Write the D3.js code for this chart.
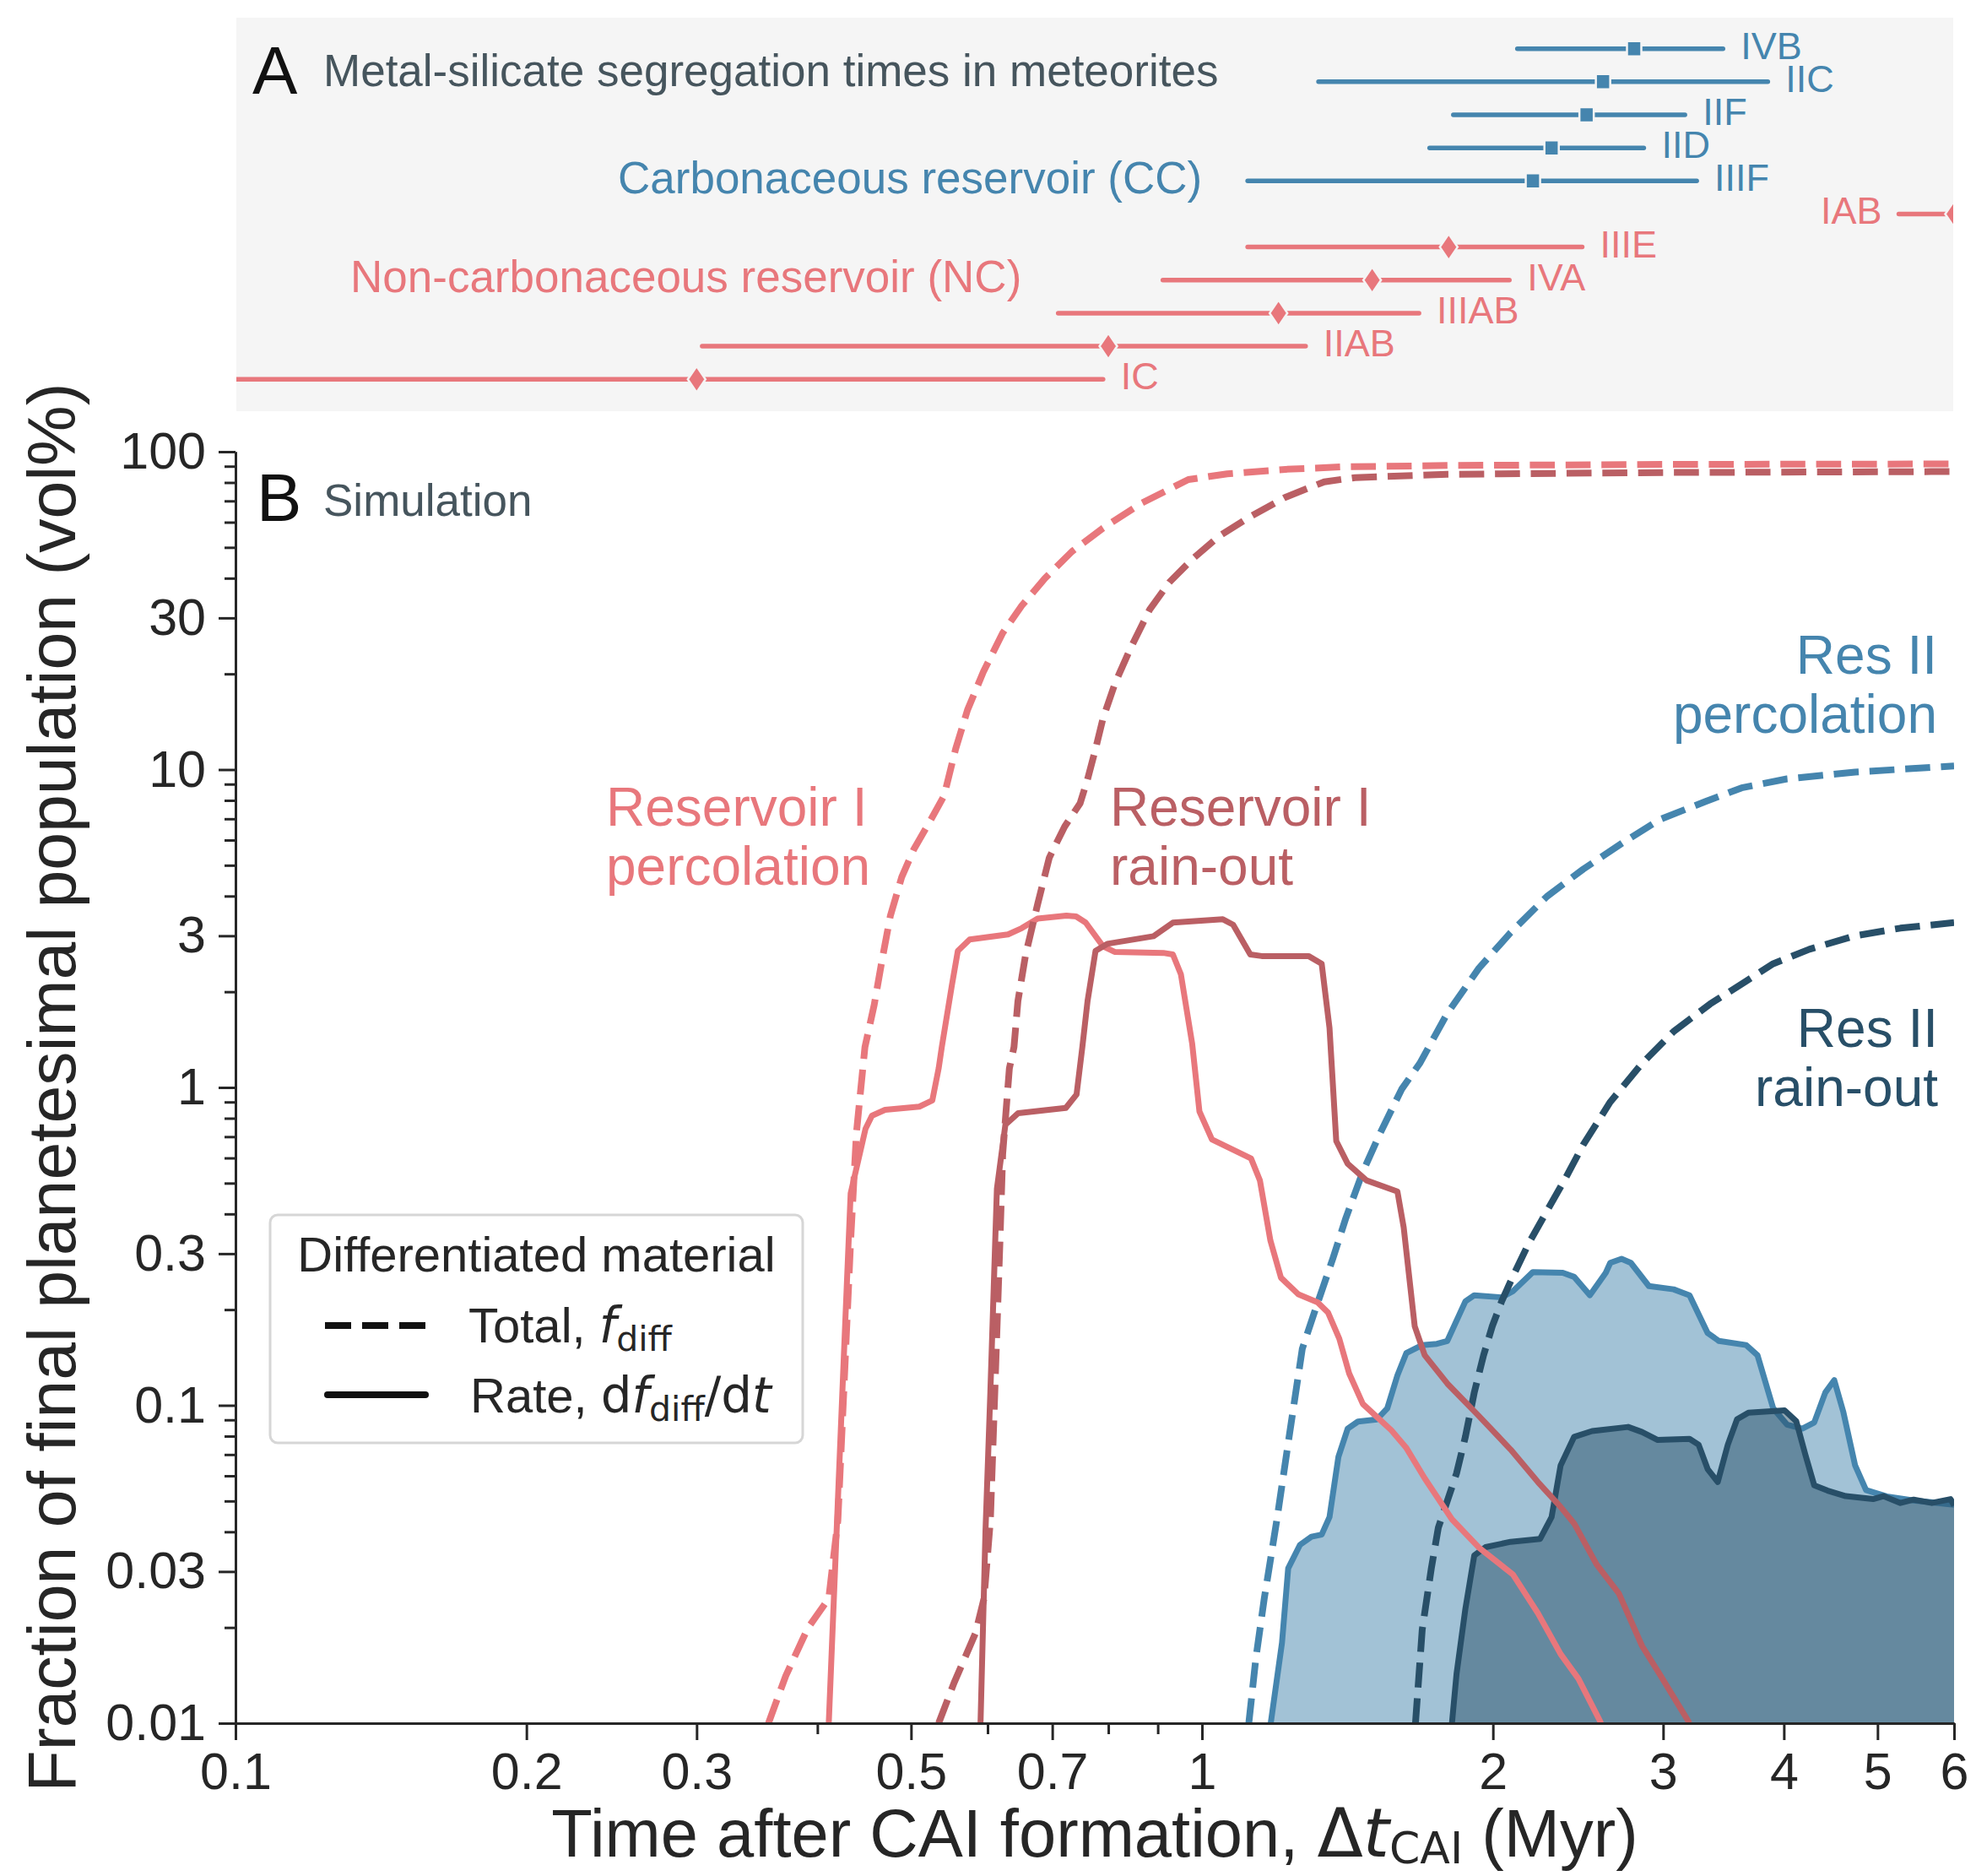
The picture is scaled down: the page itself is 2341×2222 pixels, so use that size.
<!DOCTYPE html>
<html>
<head>
<meta charset="utf-8">
<script src="https://cdn.jsdelivr.net/npm/d3@7"></script>
<style>
  html, body { margin: 0; padding: 0; background: #fff; }
  svg { display: block; font-family: "Liberation Sans", Arial, sans-serif; }
</style>
</head>
<body>
<div id="chart"></div>
<script>
// ---------- panel A: metal-silicate segregation ages (Myr after CAI) ----------
const meteorites = ["IVB", "IIC", "IIF", "IID", "IIIF", "IAB", "IIIE", "IVA", "IIIAB", "IIAB", "IC"];
const reservoirOf = ["CC", "CC", "CC", "CC", "CC", "NC", "NC", "NC", "NC", "NC", "NC"];
const ageMid = [2.8, 2.6, 2.5, 2.3, 2.2, 6.0, 1.8, 1.5, 1.2, 0.8, 0.3];
const ageLo = [2.12, 1.32, 1.82, 1.72, 1.115, 5.26, 1.115, 0.911, 0.71, 0.304, 0.08];
const ageHi = [3.46, 3.85, 3.16, 2.865, 3.25, 6.8, 2.474, 2.08, 1.677, 1.28, 0.79];

// ---------- panel B: simulation curves (vol%) ----------
// Reservoir I percolation
const percITotalX = [0.356, 0.371, 0.391, 0.411, 0.42, 0.426, 0.433, 0.439, 0.448, 0.458, 0.467, 0.476, 0.489, 0.503, 0.522, 0.541, 0.556, 0.572, 0.594, 0.622, 0.651, 0.688, 0.734, 0.79, 0.867, 0.968, 1.062, 1.22, 1.4, 1.8, 3, 6];
const percITotalY = [0.01, 0.0141, 0.0199, 0.0247, 0.0434, 0.111, 0.33, 0.72, 1.34, 1.82, 2.55, 3.47, 4.59, 5.59, 6.8, 8.28, 11.6, 15.4, 20.3, 26.9, 32.8, 40, 48.6, 57.5, 69, 81.7, 85.2, 88, 89.6, 90.5, 91.2, 91.5];
const percIRateX = [0.411, 0.42, 0.428, 0.433, 0.4486, 0.4555, 0.47, 0.51, 0.526, 0.534, 0.538, 0.551, 0.559, 0.575, 0.63, 0.651, 0.676, 0.724, 0.741, 0.758, 0.79, 0.812, 0.912, 0.933, 0.951, 0.977, 0.994, 1.024, 1.124, 1.148, 1.177, 1.207, 1.258, 1.317, 1.35, 1.387, 1.42, 1.467, 1.514, 1.57, 1.626, 1.7, 1.814, 1.934, 2.097, 2.226, 2.35, 2.452, 2.588];
const percIRateY = [0.01, 0.05, 0.2, 0.464, 0.741, 0.815, 0.85, 0.87, 0.91, 1.148, 1.34, 2.09, 2.69, 2.92, 3.03, 3.17, 3.4, 3.47, 3.45, 3.3, 2.78, 2.67, 2.65, 2.62, 2.27, 1.37, 0.84, 0.686, 0.598, 0.51, 0.33, 0.252, 0.2235, 0.211, 0.196, 0.162, 0.126, 0.101, 0.0924, 0.0835, 0.0737, 0.0589, 0.0438, 0.0357, 0.0294, 0.0222, 0.0165, 0.0138, 0.01];

// Reservoir I rain-out
const rainITotalX = [0.534, 0.554, 0.583, 0.595, 0.604, 0.6105, 0.618, 0.622, 0.632, 0.639, 0.645, 0.657, 0.676, 0.695, 0.721, 0.748, 0.761, 0.776, 0.79, 0.813, 0.843, 0.883, 0.925, 0.977, 1.042, 1.122, 1.22, 1.338, 1.44, 1.794, 3, 6];
const rainITotalY = [0.01, 0.0134, 0.0192, 0.0247, 0.0434, 0.111, 0.33, 0.617, 1.148, 1.34, 1.87, 2.62, 3.77, 5.28, 6.62, 7.83, 9.27, 11.6, 14.5, 18.7, 24, 31.9, 38.8, 45.9, 54.3, 62.5, 71.9, 80.4, 82.9, 84.9, 86, 86.6];
const rainIRateX = [0.59, 0.597, 0.604, 0.6135, 0.626, 0.6455, 0.723, 0.7417, 0.752, 0.7614, 0.776, 0.798, 0.891, 0.933, 1.051, 1.077, 1.122, 1.153, 1.289, 1.33, 1.355, 1.377, 1.415, 1.48, 1.593, 1.617, 1.66, 1.7, 1.794, 1.934, 2.086, 2.226, 2.35, 2.427, 2.56, 2.7, 2.853, 2.978, 3.195];
const rainIRateY = [0.01, 0.04, 0.11, 0.48, 0.763, 0.83, 0.862, 0.95, 1.34, 1.87, 2.69, 2.83, 2.99, 3.3, 3.38, 3.25, 2.62, 2.59, 2.59, 2.45, 1.54, 0.678, 0.5755, 0.51, 0.4706, 0.3628, 0.1773, 0.1438, 0.1171, 0.0926, 0.0726, 0.0574, 0.0479, 0.0425, 0.0316, 0.0256, 0.0175, 0.0142, 0.01];

// Reservoir II percolation
const percIITotalX = [1.118, 1.137, 1.16, 1.195, 1.2325, 1.27, 1.31, 1.366, 1.409, 1.467, 1.529, 1.609, 1.68, 1.794, 1.934, 2.086, 2.275, 2.48, 2.733, 2.978, 3.32, 3.617, 4.03, 4.74, 6];
const percIITotalY = [0.01, 0.016, 0.0247, 0.0434, 0.082, 0.1507, 0.2, 0.2898, 0.3886, 0.5426, 0.719, 0.987, 1.19, 1.71, 2.37, 3.07, 3.99, 4.86, 5.92, 6.97, 7.94, 8.76, 9.35, 9.82, 10.26];
const percIIRateX = [1.178, 1.21, 1.228, 1.263, 1.298, 1.33, 1.355, 1.384, 1.415, 1.45, 1.517, 1.555, 1.593, 1.627, 1.69, 1.75, 1.794, 1.873, 1.913, 2.042, 2.097, 2.2, 2.362, 2.427, 2.52, 2.617, 2.645, 2.717, 2.778, 2.9, 3.076, 3.195, 3.336, 3.427, 3.656, 3.756, 3.9, 4.03, 4.18, 4.3, 4.415, 4.51, 4.61, 4.74, 4.865, 5.11, 5.45, 6];
const percIIRateY = [0.01, 0.0179, 0.0307, 0.0364, 0.0386, 0.0392, 0.0445, 0.0688, 0.0845, 0.0889, 0.0903, 0.0978, 0.1243, 0.1459, 0.1547, 0.1561, 0.1594, 0.2123, 0.2219, 0.2186, 0.2283, 0.2626, 0.2612, 0.2535, 0.222, 0.2612, 0.2807, 0.289, 0.2807, 0.2372, 0.2317, 0.2219, 0.1687, 0.1594, 0.1547, 0.1438, 0.0978, 0.087, 0.0845, 0.0883, 0.1097, 0.12, 0.095, 0.0647, 0.0541, 0.0517, 0.0502, 0.0487];

// Reservoir II rain-out
const rainIITotalX = [1.663, 1.69, 1.727, 1.756, 1.794, 1.834, 1.873, 1.913, 1.956, 1.997, 2.042, 2.097, 2.178, 2.275, 2.375, 2.48, 2.645, 2.853, 3.076, 3.355, 3.656, 3.9, 4.25, 4.74, 5.28, 6];
const rainIITotalY = [0.01, 0.0197, 0.0307, 0.0412, 0.05, 0.0611, 0.0796, 0.1097, 0.1438, 0.1774, 0.2123, 0.254, 0.3232, 0.409, 0.5148, 0.66, 0.9, 1.19, 1.5, 1.83, 2.16, 2.45, 2.72, 3.0, 3.17, 3.3];
const rainIIRateX = [1.814, 1.834, 1.873, 1.913, 1.965, 2.086, 2.238, 2.3, 2.35, 2.427, 2.533, 2.76, 2.853, 2.962, 3.195, 3.265, 3.336, 3.417, 3.5, 3.578, 3.676, 4.007, 4.12, 4.21, 4.3, 4.44, 4.635, 4.947, 5.07, 5.28, 5.45, 5.69, 5.95, 6];
const rainIIRateY = [0.01, 0.0143, 0.0229, 0.0337, 0.0358, 0.0372, 0.038, 0.0445, 0.0647, 0.0796, 0.083, 0.0855, 0.0824, 0.0778, 0.0784, 0.0752, 0.063, 0.0574, 0.0752, 0.0904, 0.0948, 0.0964, 0.0891, 0.07, 0.056, 0.0539, 0.0518, 0.0507, 0.0518, 0.0493, 0.0505, 0.0493, 0.0507, 0.0484];

// ---------- ticks ----------
const xMajor = [0.1, 0.2, 0.3, 0.5, 0.7, 1, 2, 3, 4, 5, 6];
const xTickLabels = ["0.1", "0.2", "0.3", "0.5", "0.7", "1", "2", "3", "4", "5", "6"];
const xMinor = [0.4, 0.6, 0.8, 0.9];
const yMajor = [0.01, 0.03, 0.1, 0.3, 1, 3, 10, 30, 100];
const yTickLabels = ["0.01", "0.03", "0.1", "0.3", "1", "3", "10", "30", "100"];
const yMinor = [0.02, 0.04, 0.05, 0.06, 0.07, 0.08, 0.09, 0.2, 0.4, 0.5, 0.6, 0.7, 0.8, 0.9,
                2, 4, 5, 6, 7, 8, 9, 20, 40, 50, 60, 70, 80, 90];

// ---------- layout ----------
const width = 2341, height = 2222;
const plot = { left: 279, right: 2315, top: 535, bottom: 2041 };
const panelA = { left: 280, right: 2314, top: 21, bottom: 487, rowTop: 57.7, rowBottom: 449.2 };
const ink = "#262626";
const slate = "#46555d";
const panelBg = "#f5f5f5";
const colors = { percI: "#e8777c", rainI: "#ba5f64", percII: "#4585ae", rainII: "#284f68" };
const resColor = { CC: colors.percII, NC: colors.percI };
const dash = "29.6,12.8";

const x = d3.scaleLog().domain([0.1, 6]).range([plot.left, plot.right]);
const y = d3.scaleLog().domain([0.01, 100]).range([plot.bottom, plot.top]);
const row = d3.scalePoint().domain(meteorites).range([panelA.rowTop, panelA.rowBottom]);

const svg = d3.select("#chart").append("svg")
    .attr("width", width)
    .attr("height", height)
    .attr("viewBox", [0, 0, width, height]);

const defs = svg.append("defs");
defs.append("clipPath").attr("id", "clipA").append("rect")
    .attr("x", panelA.left).attr("y", panelA.top)
    .attr("width", panelA.right - panelA.left).attr("height", panelA.bottom - panelA.top);
defs.append("clipPath").attr("id", "clipB").append("rect")
    .attr("x", plot.left).attr("y", plot.top - 10)
    .attr("width", plot.right - plot.left).attr("height", plot.bottom - plot.top + 10);

// ================= panel A =================
svg.append("rect")
    .attr("x", panelA.left).attr("y", panelA.top)
    .attr("width", panelA.right - panelA.left).attr("height", panelA.bottom - panelA.top)
    .attr("fill", panelBg);

const gA = svg.append("g").attr("clip-path", "url(#clipA)");
const rowsA = meteorites.map((m, i) => ({ name: m, res: reservoirOf[i], mid: ageMid[i], lo: ageLo[i], hi: ageHi[i] }));

gA.selectAll("line.bar")
    .data(rowsA)
    .join("line")
    .attr("class", "bar")
    .attr("x1", d => x(d.lo)).attr("x2", d => x(d.hi))
    .attr("y1", d => row(d.name)).attr("y2", d => row(d.name))
    .attr("stroke", d => resColor[d.res])
    .attr("stroke-width", 5.5)
    .attr("stroke-linecap", "round");

gA.selectAll("path.marker")
    .data(rowsA)
    .join("path")
    .attr("class", "marker")
    .attr("transform", d => `translate(${x(d.mid)},${row(d.name)})`)
    .attr("d", d => d.res === "CC" ? "M-8.5,-9H8.5V9H-8.5Z" : "M0,-15.5L10.5,0L0,15.5L-10.5,0Z")
    .attr("fill", d => resColor[d.res])
    .attr("stroke", panelBg)
    .attr("stroke-width", 2.5);

gA.selectAll("text.met")
    .data(rowsA)
    .join("text")
    .attr("class", "met")
    .attr("x", d => d.name === "IAB" ? x(d.lo) - 20 : x(d.hi) + 21)
    .attr("y", d => row(d.name) + 12)
    .attr("text-anchor", d => d.name === "IAB" ? "end" : "start")
    .attr("font-size", 45)
    .attr("fill", d => resColor[d.res])
    .text(d => d.name);

svg.append("text").attr("x", 299).attr("y", 111).attr("font-size", 80).attr("fill", "#111").text("A");
svg.append("text").attr("x", 383).attr("y", 101.5).attr("font-size", 53).attr("fill", slate)
    .text("Metal-silicate segregation times in meteorites");
svg.append("text").attr("x", 732).attr("y", row("IIIF") + 14.5).attr("font-size", 53).attr("fill", colors.percII)
    .text("Carbonaceous reservoir (CC)");
svg.append("text").attr("x", 415).attr("y", row("IVA") + 14).attr("font-size", 53).attr("fill", colors.percI)
    .text("Non-carbonaceous reservoir (NC)");

// ================= panel B =================
const line = d3.line().x(d => x(d[0])).y(d => y(d[1]));
const area = d3.area().x(d => x(d[0])).y0(plot.bottom).y1(d => y(d[1]));

const gB = svg.append("g").attr("clip-path", "url(#clipB)");

const drawFill = (xs, ys, color) => {
    gB.append("path").datum(d3.zip(xs, ys))
        .attr("d", area)
        .attr("fill", color)
        .attr("fill-opacity", 0.5);
};
const drawLine = (xs, ys, color, dashed) => {
    gB.append("path").datum(d3.zip(xs, ys))
        .attr("d", line)
        .attr("fill", "none")
        .attr("stroke", color)
        .attr("stroke-width", dashed ? 8 : 7)
        .attr("stroke-linejoin", "round")
        .attr("stroke-dasharray", dashed ? dash : null);
};

drawFill(percIIRateX, percIIRateY, colors.percII);
drawLine(percIIRateX, percIIRateY, colors.percII, false);
drawFill(rainIIRateX, rainIIRateY, colors.rainII);
drawLine(rainIIRateX, rainIIRateY, colors.rainII, false);
drawLine(percIITotalX, percIITotalY, colors.percII, true);
drawLine(rainIITotalX, rainIITotalY, colors.rainII, true);

drawLine(percIRateX, percIRateY, colors.percI, false);
drawLine(rainIRateX, rainIRateY, colors.rainI, false);
drawLine(percITotalX, percITotalY, colors.percI, true);
drawLine(rainITotalX, rainITotalY, colors.rainI, true);

// axes
const styleAxis = g => {
    g.attr("color", ink);
    g.select(".domain").attr("stroke-width", 3);
    g.selectAll(".tick line").attr("stroke-width", 3);
    g.selectAll(".tick text").attr("font-size", 61).attr("font-family", "Liberation Sans, Arial, sans-serif");
};

svg.append("g")
    .attr("transform", `translate(0,${plot.bottom})`)
    .call(d3.axisBottom(x).tickValues(xMinor).tickFormat("").tickSize(13).tickSizeOuter(0))
    .call(styleAxis);
svg.append("g")
    .attr("transform", `translate(0,${plot.bottom})`)
    .call(d3.axisBottom(x).tickValues(xMajor).tickFormat((d, i) => xTickLabels[i]).tickSize(20).tickPadding(15).tickSizeOuter(0))
    .call(styleAxis);

svg.append("g")
    .attr("transform", `translate(${plot.left},0)`)
    .call(d3.axisLeft(y).tickValues(yMinor).tickFormat("").tickSize(13).tickSizeOuter(0))
    .call(styleAxis);
svg.append("g")
    .attr("transform", `translate(${plot.left},0)`)
    .call(d3.axisLeft(y).tickValues(yMajor).tickFormat((d, i) => yTickLabels[i]).tickSize(20).tickPadding(15).tickSizeOuter(0))
    .call(styleAxis);

// axis titles
const xTitle = svg.append("text")
    .attr("x", (plot.left + plot.right) / 2).attr("y", 2199)
    .attr("text-anchor", "middle").attr("font-size", 79.5).attr("fill", ink);
xTitle.append("tspan").text("Time after CAI formation, ");
xTitle.append("tspan").attr("font-family", "DejaVu Sans").text("Δ");
xTitle.append("tspan").attr("font-family", "DejaVu Sans").attr("font-style", "italic").text("t");
xTitle.append("tspan").attr("font-family", "DejaVu Sans").attr("font-size", 52).attr("dy", 8).text("CAI");
xTitle.append("tspan").attr("dy", -8).text(" (Myr)");

svg.append("text")
    .attr("transform", `translate(89,${(plot.top + plot.bottom) / 2}) rotate(-90)`)
    .attr("text-anchor", "middle").attr("font-size", 80.5).attr("fill", ink)
    .text("Fraction of final planetesimal population (vol%)");

// panel B heading
svg.append("text").attr("x", 304).attr("y", 617).attr("font-size", 80).attr("fill", "#111").text("B");
svg.append("text").attr("x", 383).attr("y", 611).attr("font-size", 53).attr("fill", slate).text("Simulation");

// curve annotations
const annotate = (lines, xPos, yPos, anchor, color) => {
    const t = svg.append("text").attr("font-size", 64).attr("fill", color).attr("text-anchor", anchor);
    lines.forEach((s, i) => t.append("tspan").attr("x", xPos).attr("y", yPos + i * 69.5).text(s));
};
annotate(["Reservoir I", "percolation"], 718, 978, "start", colors.percI);
annotate(["Reservoir I", "rain-out"], 1315, 978, "start", colors.rainI);
annotate(["Res II", "percolation"], 2295, 798, "end", colors.percII);
annotate(["Res II", "rain-out"], 2296, 1240, "end", colors.rainII);

// legend
const lg = svg.append("g");
lg.append("rect")
    .attr("x", 320).attr("y", 1439).attr("width", 631).attr("height", 270).attr("rx", 9)
    .attr("fill", "#fff").attr("fill-opacity", 0.8)
    .attr("stroke", "#d6d6d6").attr("stroke-width", 3);
lg.append("text").attr("x", 635.5).attr("y", 1506).attr("text-anchor", "middle")
    .attr("font-size", 58).attr("fill", ink).text("Differentiated material");

lg.append("line").attr("x1", 385).attr("x2", 506).attr("y1", 1570).attr("y2", 1570)
    .attr("stroke", "#111").attr("stroke-width", 8).attr("stroke-dasharray", "31,13");
lg.append("line").attr("x1", 388).attr("x2", 504).attr("y1", 1652).attr("y2", 1652)
    .attr("stroke", "#111").attr("stroke-width", 8).attr("stroke-linecap", "round");

const t1 = lg.append("text").attr("x", 555).attr("y", 1590).attr("font-size", 58).attr("fill", ink);
t1.append("tspan").text("Total, ");
t1.append("tspan").attr("font-family", "DejaVu Sans").attr("font-style", "italic").text("f");
t1.append("tspan").attr("font-family", "DejaVu Sans").attr("font-size", 41).attr("dy", 10).text("diff");

const t2 = lg.append("text").attr("x", 557).attr("y", 1673).attr("font-size", 58).attr("fill", ink);
t2.append("tspan").text("Rate, ");
t2.append("tspan").attr("font-family", "DejaVu Sans").text("d");
t2.append("tspan").attr("font-family", "DejaVu Sans").attr("font-style", "italic").text("f");
t2.append("tspan").attr("font-family", "DejaVu Sans").attr("font-size", 41).attr("dy", 10).text("diff");
t2.append("tspan").attr("font-family", "DejaVu Sans").attr("dy", -10).text("/d");
t2.append("tspan").attr("font-family", "DejaVu Sans").attr("font-style", "italic").text("t");
</script>
</body>
</html>
